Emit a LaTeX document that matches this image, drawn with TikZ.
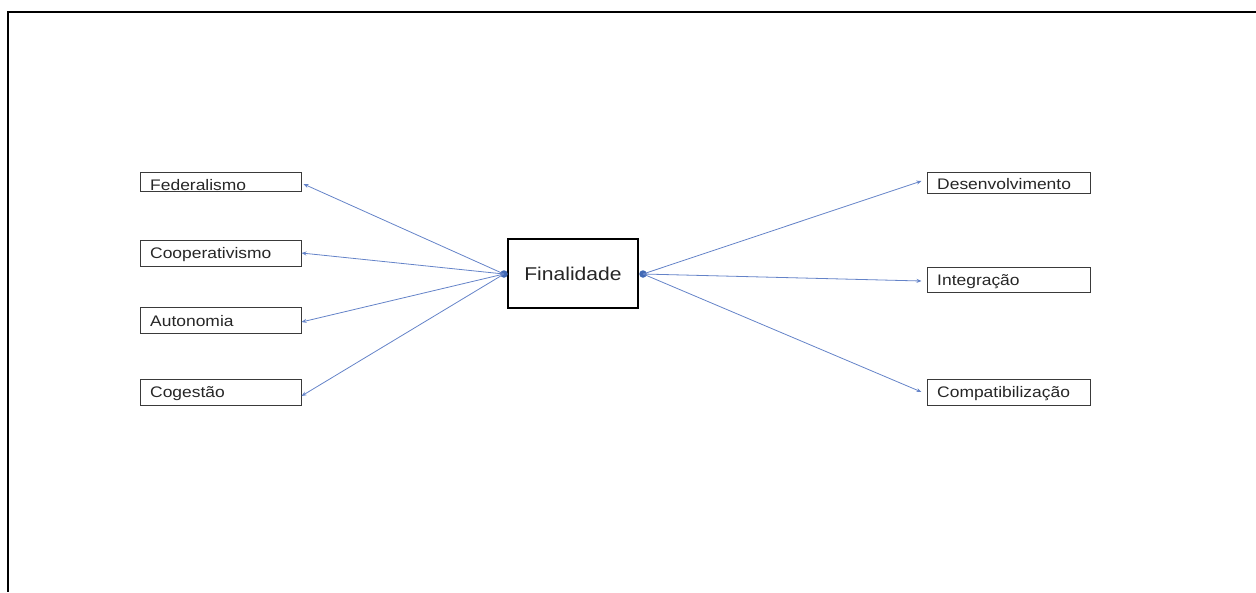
\documentclass[tikz,border=0pt]{standalone}
\usepackage{fontspec}
\setmainfont[FakeStretch=1.14]{Liberation Sans}
\usetikzlibrary{arrows.meta}
\definecolor{linkblue}{HTML}{6483C8}
\definecolor{dotblue}{HTML}{4169B5}
\definecolor{boxgray}{HTML}{3A3A3A}
\tikzset{
  lbox/.style={draw=boxgray, line width=1pt, minimum width=161pt, minimum height=26pt, inner sep=0pt},
  ltext/.style={anchor=base west, inner sep=0pt, font=\fontsize{15.3}{18}\selectfont, text=black!85},
  hub/.style={draw=black, line width=2.2pt, minimum width=130pt, minimum height=69pt, inner sep=0pt,
              font=\fontsize{18.5}{22}\selectfont, text=black!85},
  hubdot/.style={circle, fill=dotblue, inner sep=0pt, minimum size=7.5pt},
  link/.style={draw=linkblue, line width=0.8pt, -{Stealth[length=5pt,width=4pt]}},
  frame/.style={draw=black, line width=2pt}
}
\begin{document}
\begin{tikzpicture}[x=1pt, y=-1pt]
  \useasboundingbox (0,0) rectangle (1256,592);
  % outer frame (top and left edges)
  \draw[frame] (1256,12) -- (8,12) -- (8,592);

  % central node with its two connection dots
  \node[hub] (fin) at (573,273.5) {Finalidade};
  \node[hubdot] (dl) at (504,274) {};
  \node[hubdot] (dr) at (643,274) {};

  % left-hand boxes
  \node[lbox, minimum height=19pt] (fed) at (220.5,181.5) {};
  \node[ltext] (tfed) at (150,190.5) {Federalismo};
  \node[lbox] (coo) at (220.5,253) {};
  \node[ltext] (tcoo) at (150,258.5) {Cooperativismo};
  \node[lbox] (aut) at (220.5,320.5) {};
  \node[ltext] (taut) at (150,326.5) {Autonomia};
  \node[lbox] (cog) at (220.5,392) {};
  \node[ltext] (tcog) at (150,397) {Cogestão};

  % right-hand boxes
  \node[lbox, minimum width=163pt, minimum height=21pt] (des) at (1008.5,182.5) {};
  \node[ltext] (tdes) at (937,189.5) {Desenvolvimento};
  \node[lbox, minimum width=163pt, minimum height=25pt] (int) at (1008.5,279.5) {};
  \node[ltext] (tint) at (937,285) {Integração};
  \node[lbox, minimum width=163pt] (com) at (1008.5,392) {};
  \node[ltext] (tcom) at (937,397) {Compatibilização};

  % connectors
  \draw[link] (dl.center) -- ([xshift=2pt,yshift=-2.5pt]fed.east);
  \draw[link] (dl.center) -- (coo.east);
  \draw[link] (dl.center) -- ([yshift=-1.5pt]aut.east);
  \draw[link] (dl.center) -- ([yshift=-4pt]cog.east);
  \draw[link] (dr.center) -- ([xshift=-5pt,yshift=1.5pt]des.west);
  \draw[link] (dr.center) -- ([xshift=-5pt,yshift=-1.5pt]int.west);
  \draw[link] (dr.center) -- ([xshift=-5pt]com.west);
\end{tikzpicture}
\end{document}
